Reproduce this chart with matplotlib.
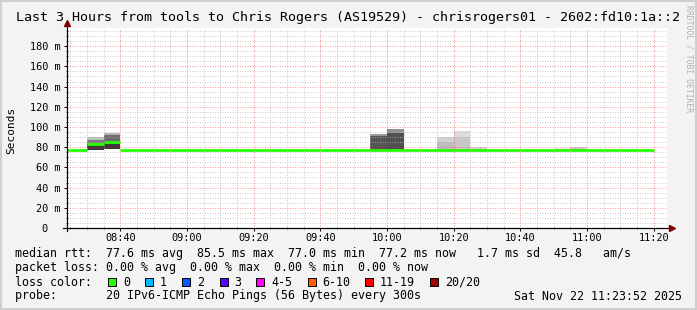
"""
SmokePing style latency graph, last 3 hours
"""

import matplotlib
matplotlib.use("Agg")
import matplotlib.pyplot as plt
from matplotlib.patches import Rectangle
from matplotlib.ticker import MultipleLocator, FuncFormatter

W, H = 697, 310
MONO = "DejaVu Sans Mono"

# 5 minute slots (start time), median rtt in ms
slot_start = ["08:20", "08:25", "08:30", "08:35", "08:40", "08:45", "08:50", "08:55",
              "09:00", "09:05", "09:10", "09:15", "09:20", "09:25", "09:30", "09:35",
              "09:40", "09:45", "09:50", "09:55", "10:00", "10:05", "10:10", "10:15",
              "10:20", "10:25", "10:30", "10:35", "10:40", "10:45", "10:50", "10:55",
              "11:00", "11:05", "11:10", "11:15"]
median_rtt = [77.3, 77.2, 83.0, 85.5, 77.4, 77.2, 77.3, 77.2,
              77.1, 77.2, 77.3, 77.2, 77.2, 77.1, 77.3, 77.2,
              77.2, 77.4, 77.3, 77.2, 77.2, 77.3, 77.2, 77.1,
              77.2, 77.2, 77.3, 77.2, 77.0, 77.2, 77.2, 77.3,
              77.2, 77.1, 77.2, 77.2]

# smoke (spread of the 20 pings) where visible
smoke_start = ["08:30", "08:35", "09:55", "10:00", "10:15", "10:20", "10:25", "10:50", "10:55"]
smoke_low = [77.6, 77.8, 77.0, 77.0, 77.0, 77.0, 77.0, 77.0, 77.0]
smoke_mid = [87.0, 92.0, 91.5, 93.7, 85.5, 90.0, 79.0, 78.5, 79.5]
smoke_high = [90.4, 94.3, 93.0, 98.0, 90.4, 96.0, 80.0, 79.5, 80.5]
smoke_core = [83.5, 86.0, None, None, None, None, None, None, None]

outer_grey = ["#c0c0c0", "#b4b4b4", "#9a9a9a", "#909090", "#d0d0d0", "#dddddd", "#dcdcdc", "#e6e6e6", "#d4d4d4"]
inner_grey = ["#7a7a7a", "#6c6c6c", "#555555", "#505050", "#bebebe", "#c8c8c8", "#d0d0d0", "#e0e0e0", "#c8c8c8"]
core_grey = "#3a3a3a"

loss_labels = ["0", "1", "2", "3", "4-5", "6-10", "11-19", "20/20"]
loss_colors = ["#26ff00", "#00b8ff", "#0059ff", "#5e00ff", "#ff00fe", "#ff5e00", "#ff0000", "#a10000"]

title = "Last 3 Hours from tools to Chris Rogers (AS19529) - chrisrogers01 - 2602:fd10:1a::2"
rtt_line = ("median rtt:  77.6 ms avg  85.5 ms max  77.0 ms min  "
            "77.2 ms now   1.7 ms sd  45.8   am/s")
loss_line = "packet loss: 0.00 % avg  0.00 % max  0.00 % min  0.00 % now"
probe_line = "probe:       20 IPv6-ICMP Echo Pings (56 Bytes) every 300s"
stamp = "Sat Nov 22 11:23:52 2025"


def hm(s):
    h, m = s.split(":")
    return int(h) * 60 + int(m)


def fx(px):
    return px / W


def fy(py):
    return 1 - py / H


def main():
    fig = plt.figure(figsize=(W / 100, H / 100), dpi=100, facecolor="#f3f3f3")
    ax = fig.add_axes([fx(67), fy(228), 600 / W, 200 / H])
    ax.set_facecolor("white")

    # smoke
    for i, s in enumerate(smoke_start):
        x0 = hm(s)
        ax.bar(x0, smoke_high[i] - smoke_low[i], bottom=smoke_low[i], width=5,
               align="edge", color=outer_grey[i], lw=0, zorder=1)
        ax.bar(x0, smoke_mid[i] - smoke_low[i], bottom=smoke_low[i], width=5,
               align="edge", color=inner_grey[i], lw=0, zorder=1.1)
        if smoke_core[i] is not None:
            ax.bar(x0, smoke_core[i] - smoke_low[i], bottom=smoke_low[i], width=5,
                   align="edge", color=core_grey, lw=0, zorder=1.2)

    # median line, coloured by loss (all 0 here), flat steps only
    starts = [hm(s) for s in slot_start]
    ax.hlines(median_rtt, starts, [t + 5 for t in starts], color=loss_colors[0],
              lw=2.0, zorder=3)

    ax.set_xlim(hm("08:24"), hm("11:24"))
    ax.set_ylim(0, 198)

    ax.xaxis.set_major_locator(MultipleLocator(20))
    ax.xaxis.set_minor_locator(MultipleLocator(5))
    ax.yaxis.set_major_locator(MultipleLocator(20))
    ax.yaxis.set_minor_locator(MultipleLocator(5))
    ax.xaxis.set_major_formatter(FuncFormatter(
        lambda v, p: "%02d:%02d" % (int(v) // 60, int(v) % 60)))
    ax.yaxis.set_major_formatter(FuncFormatter(
        lambda v, p: "%d m" % v if v > 0 else "0  "))

    ax.grid(which="minor", color="#b8b8b8", alpha=0.7, lw=0.72, linestyle=(0, (1, 1.5)))
    ax.grid(which="major", color="#ff0000", alpha=0.4, lw=0.72, linestyle=(0, (1, 1.5)))
    ax.set_axisbelow(False)

    ax.tick_params(which="major", direction="out", length=2.2, width=0.72,
                   labelsize=7.4, pad=2.5, color="black")
    ax.tick_params(axis="x", which="major", pad=1.5)
    ax.tick_params(which="minor", direction="inout", length=1.0, width=0.6, color="#444444")
    for lab in ax.get_xticklabels() + ax.get_yticklabels():
        lab.set_fontfamily(MONO)

    for side in ("top", "right"):
        ax.spines[side].set_visible(False)
    for side in ("left", "bottom"):
        ax.spines[side].set_linewidth(0.8)
        ax.spines[side].set_color("black")
    # axis extensions and arrow heads
    ax.plot([-0.006, 1.006], [0, 0], color="black", lw=0.8, transform=ax.transAxes,
            clip_on=False, zorder=4)
    ax.plot([0, 0], [-0.015, 1.02], color="black", lw=0.8, transform=ax.transAxes,
            clip_on=False, zorder=4)
    ax.plot([1.009], [0], marker=">", ms=4, color="#7f0000", transform=ax.transAxes,
            clip_on=False, zorder=5)
    ax.plot([0], [1.025], marker="^", ms=4, color="#7f0000", transform=ax.transAxes,
            clip_on=False, zorder=5)

    fig.text(0.5, fy(18), title, ha="center", va="center", family=MONO, fontsize=9.6)
    fig.text(fx(11), fy(130), "Seconds", rotation=90, ha="center", va="center",
             family=MONO, fontsize=8)
    fig.text(fx(689), fy(5), "RRDTOOL / TOBI OETIKER", rotation=270, ha="center",
             va="top", family=MONO, fontsize=5.8, color="#b0b0b0")

    fs = 8.4
    fig.text(fx(15), fy(254), rtt_line, ha="left", va="center", family=MONO, fontsize=fs)
    fig.text(fx(15), fy(268), loss_line, ha="left", va="center", family=MONO, fontsize=fs)
    fig.text(fx(15), fy(282), "loss color:", ha="left", va="center", family=MONO, fontsize=fs)
    fig.text(fx(15), fy(296), probe_line, ha="left", va="center", family=MONO, fontsize=fs)
    fig.text(fx(682), fy(296), stamp, ha="right", va="center", family=MONO, fontsize=fs)

    box_x = [108, 145, 182, 219.5, 256, 307.5, 365, 430]
    for bx, lab, col in zip(box_x, loss_labels, loss_colors):
        fig.add_artist(Rectangle((fx(bx), fy(286)), 8 / W, 8 / H, transform=fig.transFigure,
                                 facecolor=col, edgecolor="black", lw=0.7))
        fig.text(fx(bx + 15), fy(282), lab, ha="left", va="center", family=MONO, fontsize=fs)

    # 3d-ish frame
    fig.add_artist(Rectangle((0, 0), 1, 1, transform=fig.transFigure, fill=False,
                             edgecolor="#cfcfcf", lw=3))

    fig.savefig("out.png", dpi=100, facecolor=fig.get_facecolor())


if __name__ == "__main__":
    main()
